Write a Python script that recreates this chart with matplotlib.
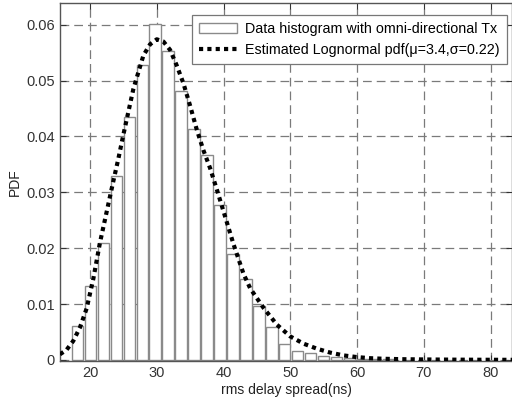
import matplotlib
matplotlib.use("Agg")
import matplotlib.pyplot as plt

# histogram bins (centres in ns) and normalised counts
bin_centers = [18.13, 20.07, 22.01, 23.95, 25.89, 27.83, 29.77, 31.71, 33.65,
               35.59, 37.53, 39.47, 41.41, 43.35, 45.29, 47.23, 49.17, 51.11,
               53.05, 54.99, 56.93, 58.87, 60.81, 62.75, 64.69]
bin_pdf = [0.0060, 0.0133, 0.0210, 0.0330, 0.0435, 0.0528, 0.0602, 0.0553, 0.0481,
           0.0414, 0.0367, 0.0278, 0.0190, 0.0145, 0.0097, 0.0059, 0.0028, 0.0016,
           0.0012, 0.0007, 0.0005, 0.0003, 0.0002, 0.0001, 0.0001]

# fitted lognormal curve
fit_x = [15.5, 16.5, 17.5, 18.5, 19.5, 20.5, 21.5, 22.5, 23.5, 24.25, 25.0, 26.5,
         28.0, 29.0, 30.0, 31.0, 32.0, 33.0, 34.0, 35.0, 36.0, 37.0, 38.0, 39.0,
         40.0, 41.5, 43.0, 44.0, 46.0, 48.0, 50.0, 52.0, 54.0, 56.0, 58.0, 60.0,
         62.0, 64.0, 67.0, 70.0, 75.0, 80.0, 85.0]
fit_y = [0.0010, 0.0018, 0.0034, 0.0058, 0.0092, 0.0145, 0.0210, 0.0265, 0.0320,
         0.0360, 0.0403, 0.0485, 0.0545, 0.0565, 0.0574, 0.0570, 0.0555, 0.0527,
         0.0495, 0.0455, 0.0412, 0.0375, 0.0343, 0.0305, 0.0266, 0.0207, 0.0154,
         0.0128, 0.0093, 0.0063, 0.0042, 0.0029, 0.0020, 0.0013, 0.0008, 0.0005,
         0.0003, 0.0002, 0.00012, 0.00008, 0.00004, 0.00002, 0.00001]

xticks = [20, 30, 40, 50, 60, 70, 80]
yticks = [0, 0.01, 0.02, 0.03, 0.04, 0.05, 0.06]
ytick_labels = ["0", "0.01", "0.02", "0.03", "0.04", "0.05", "0.06"]

plt.rcParams["font.family"] = ["Liberation Sans", "DejaVu Sans"]
plt.rcParams["font.size"] = 10

fig = plt.figure(figsize=(5.12, 4.05), dpi=100)
ax = fig.add_axes([0.117, 0.1086, 0.883, 0.884])

bars = ax.bar(bin_centers, bin_pdf, width=1.71, color="white", edgecolor="#8a8a8a",
              linewidth=1.0, zorder=2)
line, = ax.plot(fit_x, fit_y, color="black", linestyle=(0, (1, 1)), linewidth=3.0,
                zorder=3)

ax.set_xlim(15.5, 83.2)
ax.set_ylim(-0.0002, 0.0639)
ax.set_xticks(xticks)
ax.set_yticks(yticks)
ax.set_yticklabels(ytick_labels)
ax.tick_params(direction="in", length=4, top=True, right=True, colors="#333333",
               labelsize=10.5)
ax.grid(True, color="#7a7a7a", linestyle=(0, (7, 4)), linewidth=0.9, zorder=0)
ax.set_axisbelow(True)
for s in ax.spines.values():
    s.set_color("#555555")
    s.set_linewidth(1.0)

ax.set_xlabel("rms delay spread(ns)", color="#222222", labelpad=2)
ax.set_ylabel("PDF", color="#222222", labelpad=3)

leg = ax.legend([bars, line],
                ["Data histogram with omni-directional Tx",
                 "Estimated Lognormal pdf(\u03bc=3.4,\u03c3=0.22)"],
                loc="upper right", bbox_to_anchor=(0.990, 0.963),
                bbox_transform=fig.transFigure, borderaxespad=0, fancybox=False,
                framealpha=1, edgecolor="#777777", handlelength=2.6,
                handletextpad=0.6, borderpad=0.5, labelspacing=0.5,
                fontsize=10.3)
leg.get_frame().set_linewidth(0.9)

fig.savefig("out.png", dpi=100)
